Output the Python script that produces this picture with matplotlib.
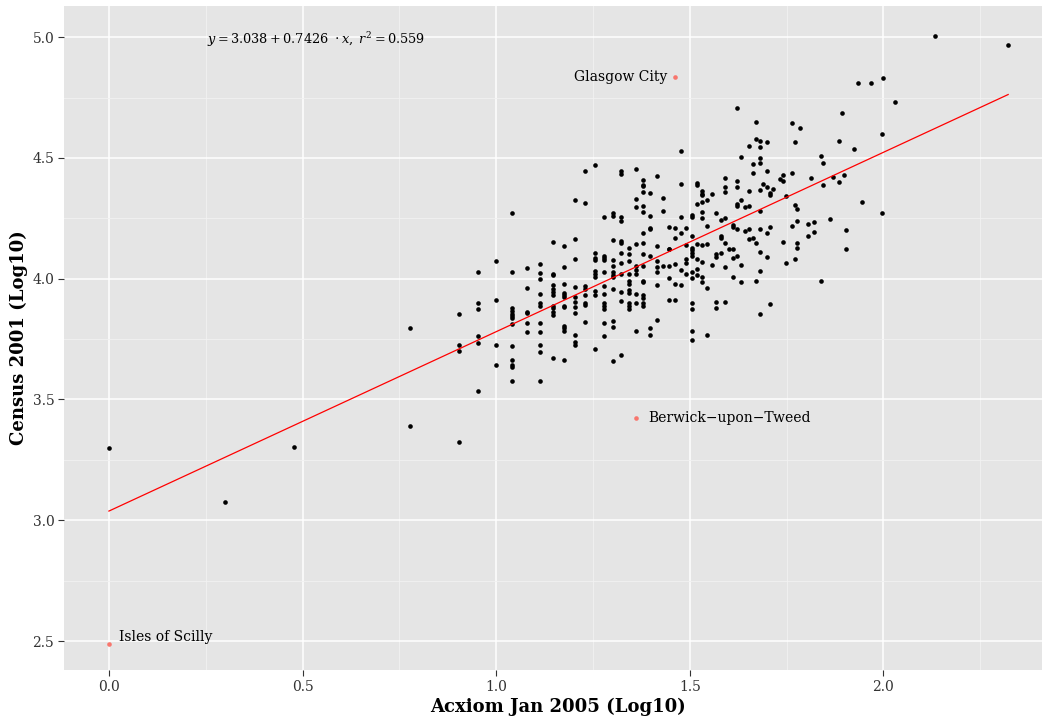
import numpy as np
import matplotlib
matplotlib.use("Agg")
import matplotlib.pyplot as plt
import matplotlib.ticker as mticker

# ---- Data ----
# Acxiom Jan 2005 counts per district (x axis is log10 of these)
acxiom_count = (
    [1, 2, 3, 6, 6, 8, 8, 8, 8]
    + [9] * 6 + [10] * 4 + [11] * 13 + [12] * 6 + [13] * 11
    + [14] * 12 + [15] * 12 + [16] * 11 + [17] * 8 + [18] * 10
    + [19] * 12 + [20] * 12 + [21] * 12 + [22] * 11 + [23] * 10
    + [24] * 16 + [25] * 7 + [26] * 7 + [27] * 3 + [28] * 6
    + [29] * 5 + [30] * 6 + [31] * 5 + [32] * 13 + [33] * 7
    + [34] * 10 + [35] * 5 + [36] * 2 + [37] * 5 + [38] * 4
    + [39] * 7 + [40] * 1 + [41] * 5 + [42] * 7 + [43] * 4
    + [44] * 2 + [45] * 5 + [46] * 3 + [47] * 4 + [48] * 10
    + [49] * 1 + [50] * 5 + [51] * 4
    + [52, 54, 55, 55, 55, 56, 56, 58, 58, 58, 59, 59, 59]
    + [60, 60, 60, 60, 61, 65, 64, 64, 66, 66, 69, 69, 70, 70, 73, 74,
       77, 77, 78, 79, 80, 80, 84, 86, 88, 93, 99, 99, 100, 107, 136, 210]
)

# Census 2001 population, log10 (same order as acxiom_count)
census_log10 = [
    3.299, 3.075, 3.303, 3.796, 3.390, 3.324, 3.855, 3.725, 3.700,
    # 9
    4.029, 3.898, 3.873, 3.764, 3.732, 3.535,
    # 10
    4.072, 3.911, 3.726, 3.642,
    # 11
    4.274, 4.027, 3.877, 3.867, 3.853, 3.846, 3.838, 3.811, 3.720, 3.664,
    3.642, 3.634, 3.576,
    # 12
    4.043, 3.961, 3.863, 3.856, 3.815, 3.779,
    # 13
    4.060, 4.023, 3.998, 3.938, 3.900, 3.887, 3.817, 3.780, 3.726, 3.695,
    3.576,
    # 14
    4.154, 4.020, 4.015, 3.974, 3.957, 3.946, 3.932, 3.889, 3.877, 3.861,
    3.851, 3.673,
    # 15
    4.136, 4.048, 3.976, 3.942, 3.932, 3.924, 3.889, 3.881, 3.805, 3.796,
    3.784, 3.662,
    # 16
    4.327, 4.163, 4.080, 3.964, 3.924, 3.903, 3.882, 3.859, 3.768, 3.740,
    3.726,
    # 17
    4.444, 4.313, 3.971, 3.958, 3.932, 3.898, 3.892, 3.820,
    # 18
    4.471, 4.105, 4.087, 4.077, 4.031, 4.018, 4.008, 3.950, 3.932, 3.710,
    # 19
    4.254, 4.094, 4.084, 4.076, 4.029, 3.971, 3.938, 3.900, 3.885, 3.874,
    3.816, 3.761,
    # 20
    4.274, 4.260, 4.160, 4.078, 4.051, 4.027, 4.015, 4.007, 3.957, 3.826,
    3.801, 3.658,
    # 21
    4.447, 4.433, 4.254, 4.237, 4.156, 4.149, 4.107, 4.065, 4.020, 3.946,
    3.907, 3.683,
    # 22
    4.127, 4.103, 4.073, 4.020, 3.990, 3.976, 3.952, 3.942, 3.900, 3.889,
    3.873,
    # 23
    4.454, 4.329, 4.295, 4.142, 4.053, 4.037, 4.020, 3.935, 3.898, 3.783,
    # 24
    4.408, 4.389, 4.382, 4.358, 4.299, 4.277, 4.188, 4.146, 4.102, 4.053,
    3.990, 3.985, 3.932, 3.921, 3.900, 3.888,
    # 25
    4.356, 4.260, 4.211, 4.204, 4.096, 3.794, 3.768,
    # 26
    4.426, 4.134, 4.074, 4.048, 4.029, 3.972, 3.829,
    # 27
    4.335, 4.281, 4.053,
    # 28
    4.212, 4.125, 3.911, 4.123, 4.053, 4.004,
    # 29
    4.208, 4.167, 4.062, 3.976, 3.911,
    # 30
    4.527, 4.392, 4.256, 4.188, 4.036, 3.975,
    # 31
    4.211, 4.139, 4.080, 4.065, 4.018,
    # 32
    4.265, 4.256, 4.175, 4.128, 4.117, 4.105, 4.095, 4.026, 4.004, 3.900,
    3.875, 3.783, 3.746,
    # 33
    4.397, 4.387, 4.309, 4.142, 4.081, 4.041, 4.016,
    # 34
    4.364, 4.349, 4.346, 4.318, 4.276, 4.252, 4.139, 4.070, 4.008, 3.985,
    # 35
    4.324, 4.219, 4.145, 3.960, 3.765,
    # 36
    4.351, 4.056,
    # 37
    4.272, 4.103, 4.089, 3.902, 3.878,
    # 38
    4.245, 4.178, 4.169, 4.106,
    # 39
    4.416, 4.378, 4.361, 4.250, 4.149, 4.048, 3.903,
    # 40
    4.125,
    # 41
    4.223, 4.214, 4.124, 4.087, 4.007,
    # 42
    4.706, 4.404, 4.378, 4.308, 4.302, 4.204, 4.096,
    # 43
    4.503, 4.324, 4.058, 3.985,
    # 44
    4.295, 4.197,
    # 45
    4.549, 4.363, 4.301, 4.204, 4.165,
    # 46
    4.476, 4.438, 4.167,
    # 47
    4.647, 4.579, 4.149, 3.989,
    # 48
    4.572, 4.546, 4.499, 4.478, 4.368, 4.281, 4.205, 4.110, 4.033, 3.853,
    # 49
    4.392,
    # 50
    4.568, 4.445, 4.378, 4.188, 4.089,
    # 51
    4.353, 4.214, 3.896, 4.346,
    # 52 .. 59
    4.371, 4.411, 4.428, 4.404, 4.152, 4.341, 4.063, 4.643, 4.437, 4.219,
    4.564, 4.305, 4.080,
    # 60 .. 210
    4.288, 4.238, 4.149, 4.128, 4.623, 4.418, 4.225, 4.176, 4.233, 4.192,
    4.509, 3.990, 4.481, 4.386, 4.247, 4.422, 4.399, 4.571, 4.688, 4.430,
    4.201, 4.123, 4.536, 4.810, 4.316, 4.810, 4.601, 4.273, 4.830, 4.730,
    5.003, 4.967,
]

# labelled outliers
outlier_names = ["Glasgow City", "Berwick\u2212upon\u2212Tweed", "Isles of Scilly"]
outlier_count = [29, 23, 1]
outlier_census = [4.834, 3.423, 2.487]

# fitted model as printed on the chart
intercept, slope = 3.038, 0.7426

x = np.log10(np.array(acxiom_count, dtype=float))
y = np.array(census_log10)
ox = np.log10(np.array(outlier_count, dtype=float))
oy = np.array(outlier_census)

# ---- Plotting (ggplot2 grey theme look) ----
plt.rcParams['font.family'] = ['DejaVu Serif']
plt.rcParams['mathtext.fontset'] = 'dejavuserif'

fig = plt.figure(figsize=(10.42, 7.2), dpi=100)
# panel runs past the right edge, as in the reference (cropped there)
ax = fig.add_axes([64 / 1042, 1 - 670 / 720, (1053 - 64) / 1042, (670 - 6) / 720])
ax.set_facecolor('#E5E5E5')
for s in ax.spines.values():
    s.set_visible(False)

ax.set_xlim(-0.116, 2.438)
ax.set_ylim(2.380, 5.129)
ax.set_xticks([0.0, 0.5, 1.0, 1.5, 2.0])
ax.set_yticks([2.5, 3.0, 3.5, 4.0, 4.5, 5.0])
ax.set_xticks([0.25, 0.75, 1.25, 1.75, 2.25], minor=True)
ax.set_yticks([2.75, 3.25, 3.75, 4.25, 4.75], minor=True)
ax.grid(which='major', color='white', linewidth=1.1)
ax.grid(which='minor', color='#F2F2F2', linewidth=0.6)
ax.set_axisbelow(True)
ax.tick_params(which='major', length=4, color='#333333', labelsize=10,
               labelcolor='#333333', pad=3)
ax.tick_params(which='minor', length=0)
ax.xaxis.set_major_formatter(mticker.FormatStrFormatter('%.1f'))
ax.yaxis.set_major_formatter(mticker.FormatStrFormatter('%.1f'))

ax.scatter(x, y, s=11, color='black', linewidths=0, zorder=3)
ax.scatter(ox, oy, s=11, color='#F8766D', linewidths=0, zorder=3)

xl = np.array([0.0, x.max()])
ax.plot(xl, intercept + slope * xl, color='red', linewidth=0.9, zorder=4)

ax.text(ox[0] - 0.02, oy[0], outlier_names[0], ha='right', va='center',
        fontsize=10, color='black')
ax.text(ox[1] + 0.03, oy[1], outlier_names[1], ha='left', va='center',
        fontsize=10, color='black')
ax.text(ox[2] + 0.025, oy[2], outlier_names[2], ha='left', va='bottom',
        fontsize=10, color='black')

ax.text(0.535, 4.99, r'$y=3.038+0.7426\ \cdot x,\ r^2=0.559$',
        ha='center', va='center', fontsize=9.3)

ax.set_xlabel('Acxiom Jan 2005 (Log10)', fontsize=13, fontweight='bold', labelpad=3)
ax.set_ylabel('Census 2001 (Log10)', fontsize=13, fontweight='bold', labelpad=3)

fig.savefig('out.png', dpi=100)
